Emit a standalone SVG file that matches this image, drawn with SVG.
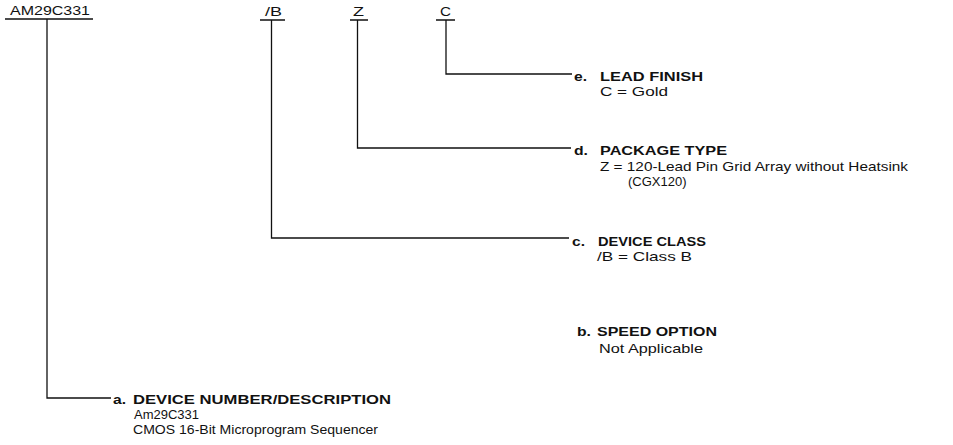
<svg xmlns="http://www.w3.org/2000/svg" width="953" height="445" viewBox="0 0 953 445">
<style>
.ln{fill:none;stroke:#111;stroke-width:1.3}
.t{font-family:"Liberation Sans",Arial,sans-serif;fill:#111}
.r{font-size:13px}
.b{font-size:13px;font-weight:bold}
.h{font-size:13.5px}
</style>
<rect width="953" height="445" fill="#fff"/>
<g id="connectors">
<path class="ln" d="M5 19H93M47 19V398H111"/>
<path class="ln" d="M260 20H285M271.5 20V238H569"/>
<path class="ln" d="M350 20H368M357.5 20V148H571"/>
<path class="ln" d="M436 20H455M446 20V74H572"/>
</g>
<g id="code">
<text class="t h" x="10" y="15" textLength="80" lengthAdjust="spacingAndGlyphs">AM29C331</text>
<text class="t h" x="265" y="16" textLength="17" lengthAdjust="spacingAndGlyphs">/B</text>
<text class="t h" x="353" y="16" textLength="11" lengthAdjust="spacingAndGlyphs">Z</text>
<text class="t h" x="440" y="16" textLength="11" lengthAdjust="spacingAndGlyphs">C</text>
</g>
<g id="node-e">
<text class="t b" x="574" y="81" textLength="13" lengthAdjust="spacingAndGlyphs">e.</text>
<text class="t b" x="600" y="81" textLength="103" lengthAdjust="spacingAndGlyphs">LEAD FINISH</text>
<text class="t r" x="600" y="96" textLength="68" lengthAdjust="spacingAndGlyphs">C = Gold</text>
</g>
<g id="node-d">
<text class="t b" x="574" y="155" textLength="14" lengthAdjust="spacingAndGlyphs">d.</text>
<text class="t b" x="600" y="155" textLength="127" lengthAdjust="spacingAndGlyphs">PACKAGE TYPE</text>
<text class="t r" x="600" y="170.5" textLength="308" lengthAdjust="spacingAndGlyphs">Z = 120-Lead Pin Grid Array without Heatsink</text>
<text class="t r" x="628" y="185.5">(CGX120)</text>
</g>
<g id="node-c">
<text class="t b" x="572" y="245.5" textLength="13" lengthAdjust="spacingAndGlyphs">c.</text>
<text class="t b" x="598" y="245.5" textLength="108" lengthAdjust="spacingAndGlyphs">DEVICE CLASS</text>
<text class="t r" x="597" y="260.5" textLength="95" lengthAdjust="spacingAndGlyphs">/B = Class B</text>
</g>
<g id="node-b">
<text class="t b" x="577" y="336" textLength="14" lengthAdjust="spacingAndGlyphs">b.</text>
<text class="t b" x="597" y="336" textLength="120" lengthAdjust="spacingAndGlyphs">SPEED OPTION</text>
<text class="t r" x="599" y="353" textLength="104" lengthAdjust="spacingAndGlyphs">Not Applicable</text>
</g>
<g id="node-a">
<text class="t b" x="113" y="404" textLength="13" lengthAdjust="spacingAndGlyphs">a.</text>
<text class="t b" x="133" y="404" textLength="258" lengthAdjust="spacingAndGlyphs">DEVICE NUMBER/DESCRIPTION</text>
<text class="t r" x="134" y="419">Am29C331</text>
<text class="t r" x="133" y="434" textLength="245" lengthAdjust="spacingAndGlyphs">CMOS 16-Bit Microprogram Sequencer</text>
</g>
</svg>
